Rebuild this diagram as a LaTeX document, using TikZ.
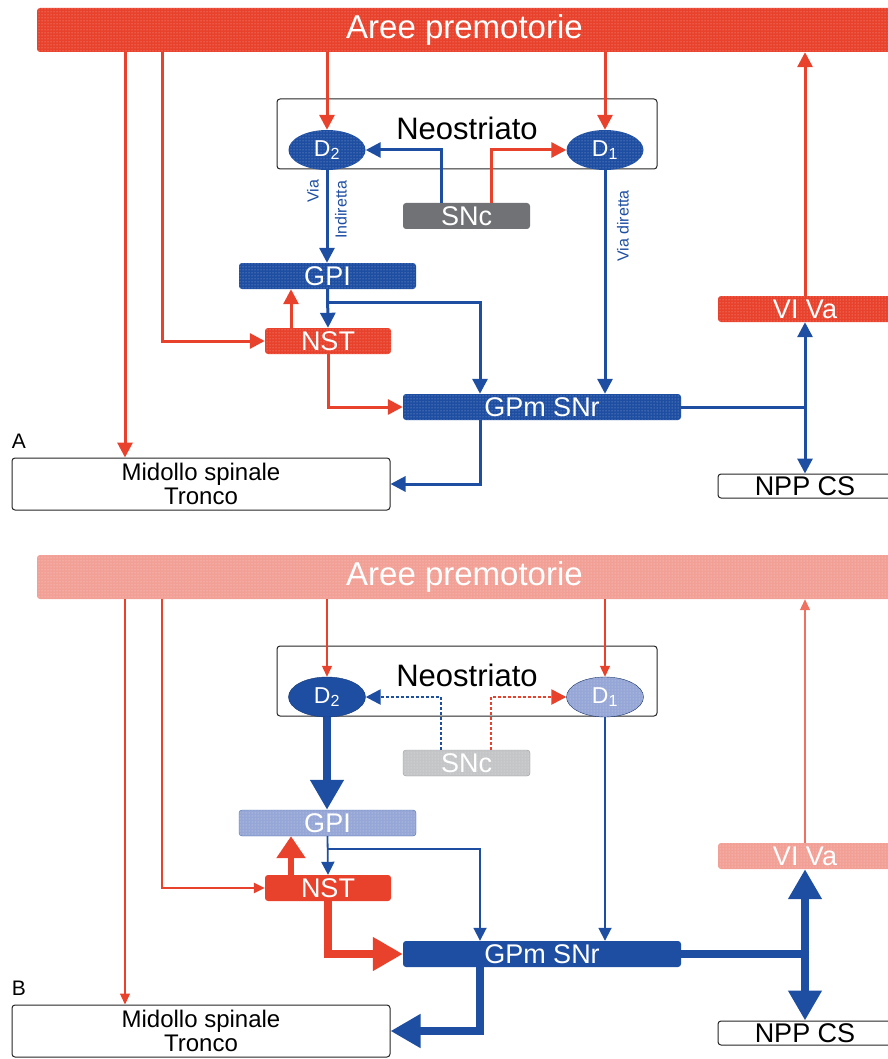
\documentclass[tikz,border=0pt]{standalone}
\usepackage{fontspec}
\setmainfont{Liberation Sans}
\usetikzlibrary{arrows.meta,shapes.geometric,patterns}
\definecolor{rosso}{RGB}{232,66,44}
\definecolor{blu}{RGB}{30,78,162}
\definecolor{grigio}{RGB}{112,114,117}
\definecolor{rosa}{RGB}{242,160,150}
\definecolor{celeste}{RGB}{150,166,214}
\definecolor{grigiochiaro}{RGB}{196,197,199}
\newcommand{\fsz}[1]{\fontsize{#1}{#1}\selectfont}

\begin{document}
\begin{tikzpicture}[x=1pt,y=-1pt,>={Triangle[length=15pt,width=15pt]},
  box/.style={rectangle,rounded corners=3pt,inner sep=0pt,text=white,font=\fsz{27}},
  speckle/.style={fill=#1,postaction={pattern=dots,pattern color=white!55!#1}},
  white box/.style={box,draw=black!85,line width=1pt,fill=white,text=black},
  cell/.style={ellipse,inner sep=0pt,minimum width=77pt,minimum height=40pt,text=white,font=\fsz{23}},
  link/.style={line width=3pt,->},
  thin link/.style={line width=1.2pt,-{Triangle[length=11pt,width=10pt]}},
  fine link/.style={line width=1.8pt,-{Triangle[length=13pt,width=13pt]}},
  snc link/.style={line width=2.5pt,dash pattern=on 2.5pt off 2.5pt,-{Triangle[length=15pt,width=15pt]}},
  fat link/.style={line width=8pt,-{Triangle[length=30pt,width=32pt]}},
  via/.style={font=\fsz{16},text=blu,rotate=90,inner sep=0pt}]

\useasboundingbox (0,0) rectangle (887,1059);

\coordinate (x125) at (125,0);
\coordinate (x162) at (162,0);
\coordinate (x291) at (291,0);
\coordinate (x441) at (441,0);
\coordinate (x480) at (480,0);
\coordinate (x491) at (491,0);

% A
\node[box,speckle=rosso,minimum width=855pt,minimum height=44pt,font=\fsz{33}] (aA) at (464.5,30) {Aree premotorie};
\node[white box,minimum width=380pt,minimum height=70pt,font=\fsz{31},text depth=12pt] (nA) at (467,134) {Neostriato};
\node[cell,speckle=blu] (d2A) at (327,150) {D\textsubscript{2}};
\node[cell,speckle=blu] (d1A) at (605,150) {D\textsubscript{1}};
\node[box,fill=grigio,minimum width=127pt,minimum height=26pt] (sA) at (466.5,216) {SNc};
\node[box,speckle=blu,minimum width=177pt,minimum height=26pt] (gpiA) at (327.5,276) {GPI};
\node[box,speckle=rosso,minimum width=126pt,minimum height=26pt] (nstA) at (328,341) {NST};
\node[box,speckle=blu,minimum width=278pt,minimum height=26pt] (gpmA) at (542,407) {GPm SNr};
\node[box,speckle=rosso,minimum width=174pt,minimum height=26pt] (vA) at (805,309) {VI Va};
\node[white box,minimum width=174pt,minimum height=24pt] (pA) at (805,486) {NPP CS};
\node[white box,minimum width=378pt,minimum height=52pt,font=\fontsize{24}{24}\selectfont,align=center] (mA) at (201,484) {Midollo spinale\\Tronco};
\node[font=\fsz{21},inner sep=0pt] (labA) at (19,441) {A};
\node[via] (v1A) at (313,191) {Via};
\node[via] (v2A) at (341,210) {Indiretta};
\node[via] (v3A) at (623,226) {Via diretta};
\coordinate (brA) at (328,302);

\draw[link,rosso] (aA.south -| x125) -- (mA.north -| x125);
\draw[link,rosso] (aA.south -| x162) |- (nstA.west);
\draw[link,rosso] (aA.south -| d2A) -- (d2A.north);
\draw[link,rosso] (aA.south -| d1A) -- (d1A.north);
\draw[link,rosso] (vA.north) -- (vA.north |- aA.south);
\draw[link,blu] (sA.north -| x441) |- (d2A.east);
\draw[link,rosso] (sA.north -| x491) |- (d1A.west);
\draw[link,blu] (d2A.south) -- (d2A.south |- gpiA.north);
\draw[link,blu] (d1A.south) -- (d1A.south |- gpmA.north);
\draw[link,blu] (gpiA.south) -- (nstA.north);
\draw[link,blu] (brA) -| (x480 |- gpmA.north);
\draw[link,rosso] (nstA.north -| x291) -- (gpiA.south -| x291);
\draw[link,rosso] (nstA.south) |- (gpmA.west);
\draw[link,blu] (gpmA.south -| x480) |- (mA.east);
\draw[link,blu] (gpmA.east) -| (vA.south);
\draw[link,blu] (gpmA.east) -| (pA.north);

% B
\begin{scope}[yshift=-547pt]
\node[box,speckle=rosa,minimum width=855pt,minimum height=44pt,font=\fsz{33}] (aB) at (464.5,30) {Aree premotorie};
\node[white box,minimum width=380pt,minimum height=70pt,font=\fsz{31},text depth=12pt] (nB) at (467,134) {Neostriato};
\node[cell,fill=blu,draw=blu!70!black] (d2B) at (327,150) {D\textsubscript{2}};
\node[cell,speckle=celeste,draw=blu!60!black] (d1B) at (605,150) {D\textsubscript{1}};
\node[box,speckle=grigiochiaro,draw=grigio!70,minimum width=127pt,minimum height=26pt] (sB) at (466.5,216) {SNc};
\node[box,speckle=celeste,draw=blu!80,minimum width=177pt,minimum height=26pt] (gpiB) at (327.5,276) {GPI};
\node[box,fill=rosso,minimum width=126pt,minimum height=26pt] (nstB) at (328,341) {NST};
\node[box,fill=blu,minimum width=278pt,minimum height=26pt] (gpmB) at (542,407) {GPm SNr};
\node[box,speckle=rosa,minimum width=174pt,minimum height=26pt] (vB) at (805,309) {VI Va};
\node[white box,minimum width=174pt,minimum height=24pt] (pB) at (805,486) {NPP CS};
\node[white box,minimum width=378pt,minimum height=52pt,font=\fontsize{24}{24}\selectfont,align=center] (mB) at (201,484) {Midollo spinale\\Tronco};
\node[font=\fsz{21},inner sep=0pt] (labB) at (19,441) {B};
\coordinate (brB) at (328,302);

\draw[thin link,rosso] (aB.south -| x125) -- (mB.north -| x125);
\draw[thin link,rosso,line width=2.5pt] (aB.south -| x162) |- (nstB.west);
\draw[thin link,rosso] (aB.south -| d2B) -- (d2B.north);
\draw[thin link,rosso] (aB.south -| d1B) -- (d1B.north);
\draw[thin link,rosso!75] (vB.north) -- (vB.north |- aB.south);
\draw[snc link,blu] (sB.north -| x441) |- (d2B.east);
\draw[snc link,rosso] (sB.north -| x491) |- (d1B.west);
\draw[fat link,blu] (d2B.south) -- (d2B.south |- gpiB.north);
\draw[fine link,blu] (d1B.south) -- (d1B.south |- gpmB.north);
\draw[fine link,blu] (gpiB.south) -- (nstB.north);
\draw[fine link,blu] (brB) -| (x480 |- gpmB.north);
\draw[rosso,line width=6pt,-{Triangle[length=22pt,width=28pt]}] (nstB.north -| x291) -- (gpiB.south -| x291);
\draw[fat link,rosso] (nstB.south) |- (gpmB.west);
\draw[fat link,blu] (gpmB.south -| x480) |- (mB.east);
\draw[fat link,blu] (gpmB.east) -| (vB.south);
\draw[fat link,blu] (gpmB.east) -| (pB.north);
\end{scope}

\end{tikzpicture}
\end{document}
